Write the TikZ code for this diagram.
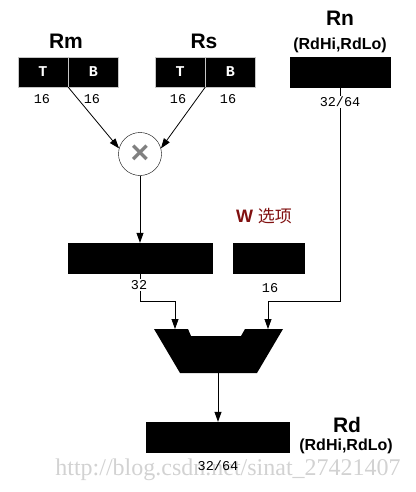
\documentclass[tikz,border=0pt]{standalone}
\usepackage{fontspec}
\setmainfont{Liberation Sans}
\setmonofont{Liberation Mono}
\newfontfamily\cjk{Noto Sans CJK SC}
\newfontfamily\markfont{Liberation Serif}
\usetikzlibrary{calc}
\usetikzlibrary{positioning}
\usetikzlibrary{arrows.meta}

\definecolor{wred}{RGB}{128,16,16}

\begin{document}
\begin{tikzpicture}[x=1pt,y=-1pt,
  reg/.style={fill=black,draw=black,minimum height=30pt,inner sep=0pt},
  field/.style={reg,draw=gray!45,minimum width=50pt,text=white,font=\ttfamily\bfseries\fontsize{15}{15}\selectfont},
  regname/.style={font=\bfseries\fontsize{21}{21}\selectfont,inner sep=0pt},
  subname/.style={font=\bfseries\fontsize{16}{16}\selectfont,inner sep=0pt},
  bits/.style={font=\ttfamily\fontsize{13.5}{13.5}\selectfont,inner sep=1pt},
  wire/.style={line width=0.8pt},
  arr/.style={wire,-{Triangle[length=10pt,width=7pt]}}]

\useasboundingbox (0,0) rectangle (415,492);

\def\muxtop{329}
\def\bend{301}

% watermark
\node[text=gray!35,font=\markfont\fontsize{24}{24}\selectfont] (mark) at (228,470) {http://blog.csdn.net/sinat\_27421407};

% registers
\node[regname] (rmName) at (66,41) {Rm};
\node[field] (rmT) at (43,72) {T};
\node[field,right=0pt of rmT] (rmB) {B};

\node[regname] (rsName) at (204,41) {Rs};
\node[field] (rsT) at (180,72) {T};
\node[field,right=0pt of rsT] (rsB) {B};

\node[regname] (rnName) at (340,18) {Rn};
\node[subname] (rnSub) at (340,45) {(RdHi,RdLo)};
\node[reg,minimum width=100pt] (rn) at (340,72) {};

\node[draw,circle,minimum size=43pt,inner sep=0pt,text=gray,font=\bfseries\fontsize{32}{32}\selectfont] (mul) at (140,154) {×};

\node[reg,minimum width=144pt] (acc) at (140,258) {};
\node[reg,minimum width=71pt] (wbox) at (268.5,258) {};
\node[font=\bfseries\fontsize{18}{18}\selectfont,text=wred] (wopt) at (264,216) {W {\cjk\mdseries\fontsize{17}{17}\selectfont 选项}};

\node[reg,minimum width=143pt] (rd) at (218,437) {};
\node[regname] (rdName) at (347,425) {Rd};
\node[subname] (rdSub) at (346,446) {(RdHi,RdLo)};

% mux
\coordinate (muxA) at (175,\muxtop);
\coordinate (muxB) at (268,\muxtop);
\coordinate (muxOut) at (218,373);
\fill (154,\muxtop) -- (188,\muxtop) -- (191,336) -- (241,336) -- (245,\muxtop)
  -- (283,\muxtop) -- (257,373) -- (180,373) -- cycle;

% wires
\draw[arr] (rmT.south east) -- (mul.165);
\draw[arr] (rsT.south east) -- (mul.15);
\draw[arr] (mul) -- (acc.north);
\draw[arr] (acc.south) |- ($(muxA)+(0,\bend-\muxtop)$) -- (muxA);
\draw[arr] (rn.south) |- ($(muxB)+(0,\bend-\muxtop)$) -- (muxB);
\draw[arr] (muxOut) -- (rd.north);

% widths
\node[bits] (rmTbits) at (42,99) {16};
\node[bits] (rmBbits) at (92,99) {16};
\node[bits] (rsTbits) at (178,99) {16};
\node[bits] (rsBbits) at (228,99) {16};
\node[bits,fill=white] (rnBits) at (340,102) {32/64};
\node[bits,fill=white] (accBits) at (139,285) {32};
\node[bits] (wBits) at (270,288) {16};
\node[bits] (rdBits) at (218,466) {32/64};

\end{tikzpicture}
\end{document}
